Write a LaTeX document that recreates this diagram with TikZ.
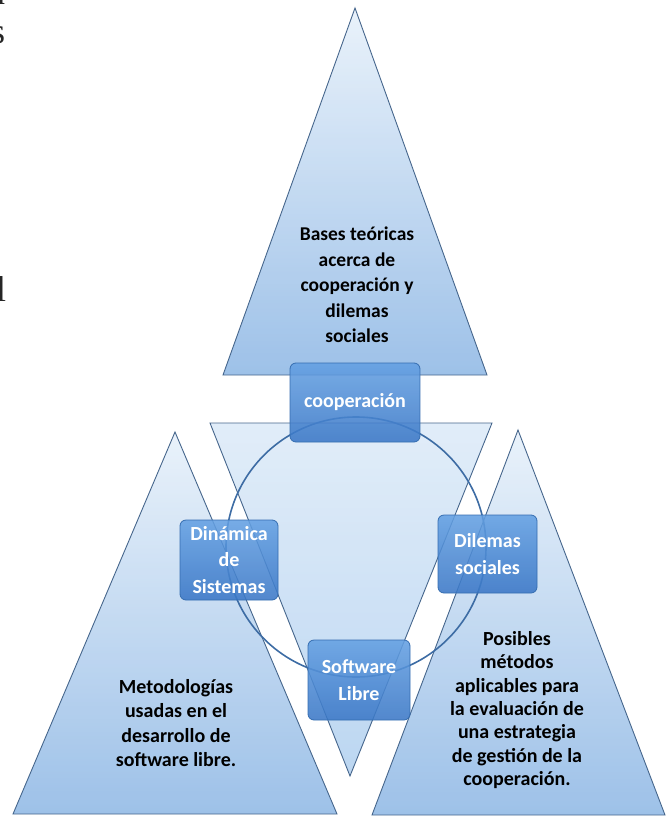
\documentclass[tikz,border=0pt]{standalone}
\usepackage{fontspec}
\setmainfont{Carlito}
\newfontfamily\pageserif{Liberation Serif}
\definecolor{triline}{HTML}{46668C}
\definecolor{tritop}{HTML}{E6F0FA}
\definecolor{tribot}{HTML}{8CB6E4}
\definecolor{invtop}{HTML}{DCEAF8}
\definecolor{invbot}{HTML}{B0CFEF}
\definecolor{circ}{HTML}{3D6CA4}
\definecolor{boxtop}{HTML}{64A0E2}
\definecolor{boxbot}{HTML}{3A77C6}
\definecolor{boxline}{HTML}{356DB0}
\begin{document}
\begin{tikzpicture}[x=1pt,y=-1pt,
  tri/.style={draw=triline, line width=0.9pt, top color=tritop, bottom color=tribot, fill opacity=0.85},
  invtri/.style={draw=triline, line width=0.9pt, top color=invtop, bottom color=invbot, fill opacity=0.85},
  tritext/.style={align=center, text=black, font=\bfseries\fontsize{20}{24.3}\selectfont, inner sep=0pt},
  boxnode/.style={draw=boxline, line width=0.8pt, rounded corners=6pt, top color=boxtop, bottom color=boxbot, fill opacity=0.88, text opacity=1, text=white, align=center, font=\bfseries\fontsize{20}{26.5}\selectfont, inner sep=0pt},
  frag/.style={font=\pageserif\fontsize{36}{36}\selectfont, text=black!85, inner sep=0pt, anchor=base west}
]
\useasboundingbox (0,0) rectangle (667,819);
% page text fragments at the left edge
\node[frag] (f1) at (-13,5) {n};
\node[frag] (f2) at (-9,43) {s};
\node[frag] (f3) at (-4,301) {l};
% middle inverted triangle
\coordinate (mA) at (210,423);
\coordinate (mB) at (492,423);
\coordinate (mC) at (350,776);
\path[invtri] (mA) -- (mB) -- (mC) -- cycle;
% left triangle
\coordinate (lA) at (175,432);
\coordinate (lB) at (337,814);
\coordinate (lC) at (13,814);
\path[tri] (lA) -- (lB) -- (lC) -- cycle;
% right triangle
\coordinate (rA) at (518,430);
\coordinate (rB) at (665,815);
\coordinate (rC) at (372,815);
\path[tri] (rA) -- (rB) -- (rC) -- cycle;
% top triangle
\coordinate (tA) at (355,8);
\coordinate (tB) at (487,375);
\coordinate (tC) at (223,375);
\path[tri] (tA) -- (tB) -- (tC) -- cycle;
% circle
\coordinate (cc) at (356,547);
\draw[circ, line width=1.6pt] (cc) circle[radius=130];
% triangle texts
\node[tritext, font=\bfseries\fontsize{19.5}{25.5}\selectfont] (ttop) at (357,285) {Bases teóricas\\acerca de\\cooperación y\\dilemas\\sociales};
\node[tritext] (tleft) at (176,723) {Metodologías\\usadas en el\\desarrollo de\\software libre.};
\node[tritext, font=\bfseries\fontsize{20}{23.4}\selectfont] (tright) at (517,710) {Posibles\\métodos\\aplicables para\\la evaluación de\\una estrategia\\de gestión de la\\cooperación.};
% boxes
\node[boxnode, minimum width=130, minimum height=79] (coop) at (355,402.5) {cooperación};
\node[boxnode, minimum width=98, minimum height=80] (dina) at (229,560) {Dinámica\\de\\Sistemas};
\node[boxnode, minimum width=99, minimum height=78] (dile) at (487.5,554) {Dilemas\\sociales};
\node[boxnode, minimum width=102, minimum height=80] (soft) at (359,680) {Software\\Libre};
\end{tikzpicture}
\end{document}
